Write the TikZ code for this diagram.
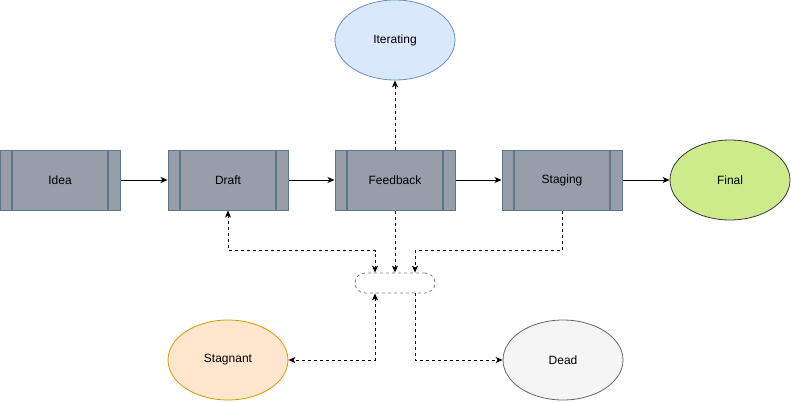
\documentclass[tikz,border=0pt]{standalone}
\usepackage{fontspec}
\setmainfont{Liberation Sans}
\usetikzlibrary{shapes.geometric,arrows.meta}
\definecolor{boxfill}{RGB}{150,158,170}
\definecolor{boxline}{RGB}{94,118,137}
\definecolor{iterfill}{HTML}{DAE8FC}
\definecolor{iterline}{HTML}{6C8EBF}
\definecolor{stagfill}{HTML}{FFE6CC}
\definecolor{stagline}{HTML}{D79B00}
\definecolor{deadfill}{HTML}{F5F5F5}
\definecolor{deadline}{HTML}{666666}
\definecolor{finalfill}{HTML}{CDEB8B}
\definecolor{finalline}{HTML}{36393D}
\definecolor{hubline}{HTML}{808080}
\tikzset{
  procbox/.style={draw=boxline, fill=boxfill, line width=1pt, minimum width=120pt, minimum height=60pt, inner sep=0pt, font=\fontsize{12pt}{14pt}\selectfont,
    path picture={
      \draw[boxline, line width=1.5pt] ([xshift=12pt]path picture bounding box.north west) -- ([xshift=12pt]path picture bounding box.south west);
      \draw[boxline, line width=1.5pt] ([xshift=-12pt]path picture bounding box.north east) -- ([xshift=-12pt]path picture bounding box.south east);
    }},
  stateell/.style={ellipse, line width=0.8pt, minimum width=120pt, minimum height=80pt, inner sep=0pt, font=\fontsize{12pt}{14pt}\selectfont},
  hubbox/.style={draw=hubline, dashed, dash pattern=on 3pt off 3pt, rounded corners=10pt, minimum width=80pt, minimum height=20pt, inner sep=0pt, line width=0.8pt},
  solidarrow/.style={line width=1pt, -{Stealth[length=7pt,width=6pt,inset=2pt]}},
  dasharrow/.style={line width=1pt, dash pattern=on 3pt off 3pt, -{Stealth[length=7pt,width=6pt,inset=2pt]}},
  dashboth/.style={line width=1pt, dash pattern=on 3pt off 3pt, {Stealth[length=7pt,width=6pt,inset=2pt]}-{Stealth[length=7pt,width=6pt,inset=2pt]}}
}
\begin{document}
\begin{tikzpicture}[x=1pt,y=-1pt]
\useasboundingbox (0,0) rectangle (791,401);
\node[procbox] (idea) at (60,180) {Idea};
\node[procbox] (draft) at (228,180) {Draft};
\node[procbox] (feedback) at (395,180) {Feedback};
\node[procbox] (staging) at (562,180) {Staging};
\node[stateell, draw=finalline, fill=finalfill] (final) at (730,180) {Final};
\node[stateell, draw=iterline, fill=iterfill] (iter) at (395,40) {Iterating};
\node[stateell, draw=stagline, fill=stagfill] (stag) at (228,360) {Stagnant};
\node[stateell, draw=deadline, fill=deadfill] (dead) at (563,360) {Dead};
\node[hubbox] (hub) at (395,283) {};

\draw[solidarrow] (idea) -- (draft);
\draw[solidarrow] (draft) -- (feedback);
\draw[solidarrow] (feedback) -- (staging);
\draw[solidarrow] (staging) -- (final);

\draw[dasharrow] (feedback.north) -- (iter.south);
\draw[dasharrow] (feedback.south) -- (hub.north);
\draw[dashboth] (draft.south) -- ++(0,40) -| ([xshift=-20pt]hub.north);
\draw[dasharrow] (staging.south) -- ++(0,40) -| ([xshift=20pt]hub.north);
\draw[dashboth] ([xshift=-20pt]hub.south) |- (stag.east);
\draw[dasharrow] ([xshift=20pt]hub.south) |- (dead.west);
\end{tikzpicture}
\end{document}
